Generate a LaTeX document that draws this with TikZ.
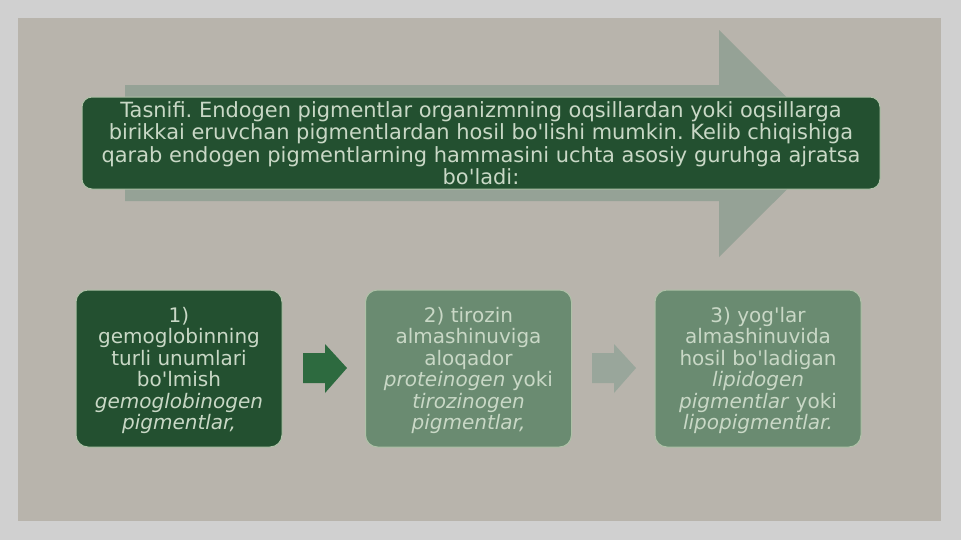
\documentclass[tikz,border=0pt]{standalone}
\usepackage{fontspec}
\setmainfont{DejaVu Sans}[Ligatures=TeXOff]
\frenchspacing
\definecolor{outerbg}{HTML}{D0D0D0}
\definecolor{panel}{HTML}{B8B4AC}
\definecolor{bigarrow}{HTML}{95A296}
\definecolor{darkbox}{HTML}{235030}
\definecolor{lightbox}{HTML}{6A8B71}
\definecolor{boxline}{HTML}{AFC2A8}
\definecolor{txt}{HTML}{C9D8C6}
\definecolor{arrowA}{HTML}{2D6A3F}
\definecolor{arrowB}{HTML}{99A69B}
\tikzset{
  topbox/.style={fill=darkbox, draw=boxline, line width=0.75pt, rounded corners=7.5pt,
    minimum width=598.5pt, minimum height=69pt, inner sep=0pt, text=txt, align=center,
    font=\fontsize{15.7}{16.9}\selectfont},
  stepbox/.style={draw=boxline, line width=0.75pt, rounded corners=9pt,
    minimum width=154.5pt, minimum height=117.75pt, inner sep=0pt, text=txt, align=center,
    font=\fontsize{15}{16.1}\selectfont},
}
\begin{document}
\begin{tikzpicture}[x=0.75pt,y=-0.75pt]
\useasboundingbox (0,0) rectangle (961,540);
\fill[outerbg] (0,0) rectangle (961,540);
\fill[panel] (18,18) rectangle (941,521);
% big background arrow
\fill[bigarrow] (125,85) -- (719,85) -- (719,30) -- (833,143.5) -- (719,257) -- (719,201) -- (125,201) -- cycle;
% top box
\node[topbox] (top) at (481,143) {Tasnifi. Endogen pigmentlar organizmning oqsillardan yoki oqsillarga\\
birikkai eruvchan pigmentlardan hosil bo'lishi mumkin. Kelib chiqishiga\\
qarab endogen pigmentlarning hammasini uchta asosiy guruhga ajratsa\\
bo'ladi:};
% step boxes
\node[stepbox, fill=darkbox] (b1) at (179,368.5) {\rule{0pt}{14.5pt}1)\\ gemoglobinning\\ turli unumlari\\ bo'lmish\\ \textit{gemoglobinogen}\\ \textit{pigmentlar,}};
\node[stepbox, fill=lightbox] (b2) at (468.5,368.5) {\rule{0pt}{14.5pt}2) tirozin\\ almashinuviga\\ aloqador\\ \textit{proteinogen} yoki\\ \textit{tirozinogen}\\ \textit{pigmentlar,}};
\node[stepbox, fill=lightbox] (b3) at (758,368.5) {\rule{0pt}{14.5pt}3) yog'lar\\ almashinuvida\\ hosil bo'ladigan\\ \textit{lipidogen}\\ \textit{pigmentlar} yoki\\ \textit{lipopigmentlar.}};
% block arrows
\fill[arrowA] (303,353) -- (325,353) -- (325,344) -- (347,368) -- (325,393) -- (325,383) -- (303,383) -- cycle;
\fill[arrowB] (592,353) -- (614,353) -- (614,344) -- (636,368) -- (614,393) -- (614,383) -- (592,383) -- cycle;
\end{tikzpicture}
\end{document}
